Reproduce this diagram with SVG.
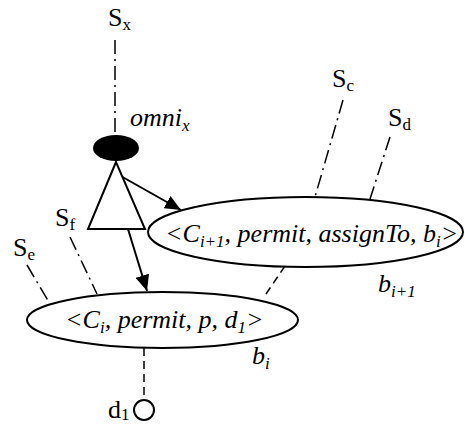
<svg xmlns="http://www.w3.org/2000/svg" width="465" height="425" viewBox="0 0 465 425">
<style>
text{font-family:"Liberation Serif","Times New Roman",serif;font-size:26px;fill:#000}
.it{font-style:italic}
.sub{font-size:17px}
.dd{stroke:#000;stroke-width:1.5;fill:none;stroke-dasharray:14 5 2 5}
.dsh{stroke:#000;stroke-width:1.5;fill:none;stroke-dasharray:8 5}
.ln{stroke:#000;stroke-width:2;fill:none}
.node{stroke:#000;stroke-width:2;fill:#fff}
</style>
<defs>
<marker id="ah" viewBox="0 0 16 14" refX="16" refY="7" markerWidth="16" markerHeight="14" markerUnits="userSpaceOnUse" orient="auto">
<path d="M0,0 L16,7 L0,14 z" fill="#000"/>
</marker>
</defs>
<rect width="465" height="425" fill="#fff"/>
<g id="connectors">
<line class="dd" x1="115" y1="40" x2="115" y2="135"/>
<line class="dd" x1="343" y1="100" x2="315" y2="197"/>
<line class="dd" x1="390" y1="137" x2="370" y2="199"/>
<line class="dd" x1="70" y1="237" x2="97" y2="294"/>
<line class="dd" x1="27" y1="265" x2="50" y2="304"/>
<line class="dsh" x1="285" y1="266" x2="266" y2="294"/>
<line class="dsh" x1="144" y1="348" x2="144" y2="400"/>
<line class="ln" x1="122.5" y1="177" x2="181" y2="210" marker-end="url(#ah)"/>
<line class="ln" x1="128" y1="229" x2="147" y2="291" marker-end="url(#ah)"/>
</g>
<g id="omni">
<ellipse cx="116" cy="148" rx="23" ry="13" fill="#000"/>
<polygon class="node" points="116,162 88,229 145,229"/>
<text x="130" y="126" class="it">omni<tspan class="sub" dy="5">x</tspan></text>
</g>
<g id="Sx"><text x="108" y="26">S<tspan class="sub" dy="4">x</tspan></text></g>
<g id="Sc"><text x="332" y="87">S<tspan class="sub" dy="4">c</tspan></text></g>
<g id="Sd"><text x="388" y="126">S<tspan class="sub" dy="4">d</tspan></text></g>
<g id="Sf"><text x="55" y="226">S<tspan class="sub" dy="4">f</tspan></text></g>
<g id="Se"><text x="13" y="256">S<tspan class="sub" dy="4">e</tspan></text></g>
<g id="b_i1">
<ellipse class="node" cx="305.5" cy="232" rx="157.5" ry="35"/>
<text x="165" y="242" class="it">&lt;C<tspan class="sub" dy="5">i+1</tspan><tspan dy="-5">, permit, assignTo, b</tspan><tspan class="sub" dy="5">i</tspan><tspan dy="-5">&gt;</tspan></text>
<text x="378" y="292" class="it">b<tspan class="sub" dy="5">i+1</tspan></text>
</g>
<g id="b_i">
<ellipse class="node" cx="162.5" cy="320" rx="135.5" ry="28"/>
<text x="65" y="328" class="it">&lt;C<tspan class="sub" dy="5">i</tspan><tspan dy="-5">, permit, p, d</tspan><tspan class="sub" dy="5">1</tspan><tspan dy="-5">&gt;</tspan></text>
<text x="252" y="364" class="it">b<tspan class="sub" dy="5">i</tspan></text>
</g>
<g id="d1">
<circle cx="144" cy="410" r="10" fill="#fff" stroke="#000" stroke-width="2"/>
<text x="108" y="418">d<tspan class="sub" dy="2">1</tspan></text>
</g>
</svg>
